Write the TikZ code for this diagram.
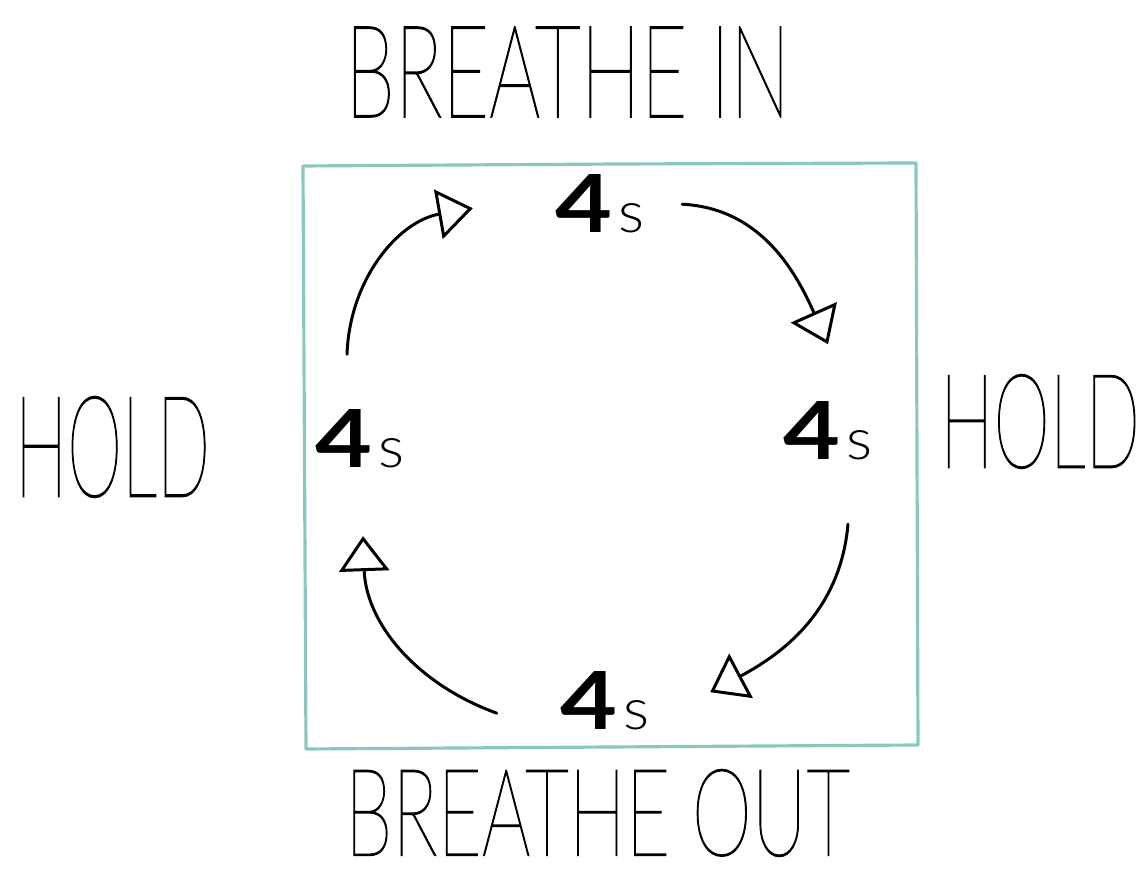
\documentclass[tikz,border=0pt]{standalone}
\usepackage{fontspec}
\usepackage{graphicx}
\usetikzlibrary{arrows.meta,positioning}
\IfFontExistsTF{Lato Thin}{\newfontfamily\handfont[FakeBold=1.2]{Lato Thin}}{%
  \IfFontExistsTF{Lato Light}{\newfontfamily\handfont{Lato Light}}{\newfontfamily\handfont{Liberation Sans}}}
\IfFontExistsTF{Lato Light}{\newfontfamily\sfont{Lato Light}}{\newfontfamily\sfont{Liberation Sans}}
\newfontfamily\digitfont{Lato}
\definecolor{boxteal}{RGB}{137,199,192}
\newcommand{\hand}[3]{\resizebox{#1}{#2}{\handfont #3}}
\newcommand{\dur}{\resizebox{5.7mm}{5.8mm}{\digitfont\bfseries 4}\kern0.6mm\resizebox{2.6mm}{2.9mm}{\sfont s}}

\begin{document}
\begin{tikzpicture}[
    word/.style={inner sep=0pt},
    secs/.style={inner sep=0pt, anchor=base},
    arr/.style={-{Triangle[open, length=3.5mm, width=5mm, line width=0.85pt]}, line width=0.85pt, line cap=round}
]
\useasboundingbox (0,0) rectangle (11.45,8.72);
% frame
\draw[boxteal, line width=0.9pt, line join=round] (3.03,7.06) -- (6.2,7.08) -- (9.16,7.09) -- (9.18,1.27) -- (3.06,1.23) -- cycle;

% phase names
\node[word] (inhale) at (5.675,8.00) {\hand{4.45cm}{9mm}{BREATHE IN}};
\node[word] (exhale) at (5.975,0.59) {\hand{5.05cm}{8.6mm}{BREATHE OUT}};
\node[word] (holdL) at (1.125,4.25) {\hand{1.95cm}{10mm}{HOLD}};
\node[word] (holdR) at (10.40,4.505) {\hand{2.0cm}{9.3mm}{HOLD}};

% durations
\node[secs] (t4top) at (6.00,6.39) {\dur};
\node[secs] (t4right) at (8.28,4.12) {\dur};
\node[secs] (t4bottom) at (6.05,1.42) {\dur};
\node[secs] (t4left) at (3.60,4.04) {\dur};

\draw[arr] ([xshift=3.7mm]t4top.east) to[out=-3, in=114] ([yshift=5.7mm]t4right.north);
\draw[arr] ([xshift=2mm, yshift=-6.3mm]t4right.south) to[out=-95, in=28] ([xshift=6mm, yshift=0.9mm]t4bottom.east);
\draw[arr] ([xshift=-6.3mm, yshift=-1.2mm]t4bottom.west) to[out=160, in=-88] ([xshift=0.3mm, yshift=-6.7mm]t4left.south);
\draw[arr] ([xshift=-1.3mm, yshift=5.5mm]t4left.north) to[out=88, in=190] ([xshift=-8.2mm, yshift=-0.4mm]t4top.west);
\end{tikzpicture}
\end{document}
